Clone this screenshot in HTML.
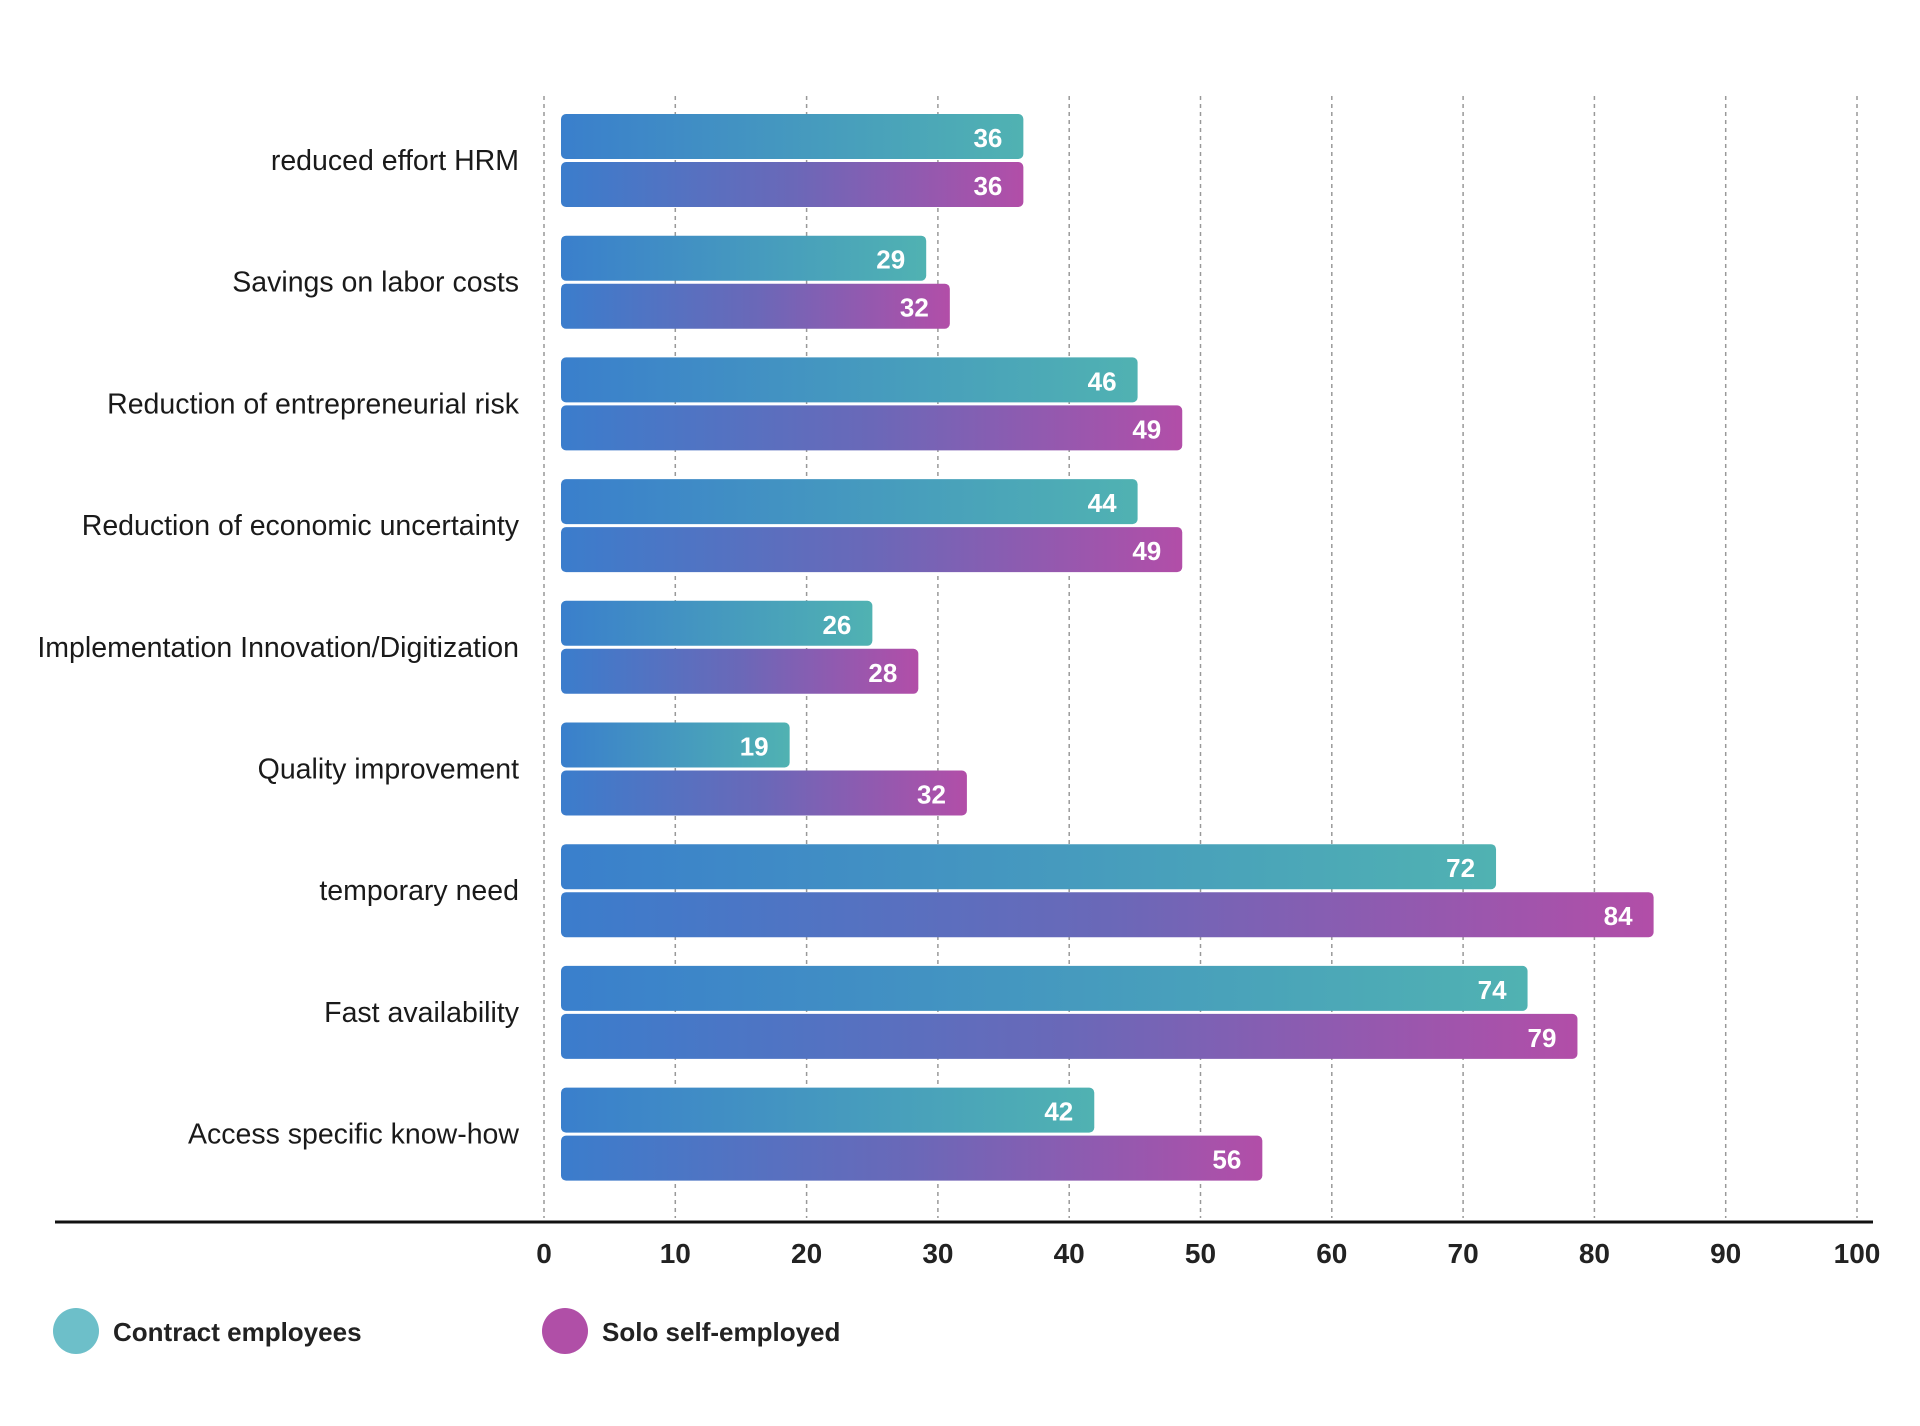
<!DOCTYPE html>
<html><head><meta charset="utf-8"><style>
body{margin:0;background:#fff;}
svg{display:block;font-family:"Liberation Sans",sans-serif;}
</style></head><body>
<svg id="chart" width="1920" height="1426" viewBox="0 0 1920 1426" xmlns="http://www.w3.org/2000/svg">
<defs>
<linearGradient id="gT" x1="0" x2="1" y1="0" y2="0"><stop offset="0" stop-color="#3a7fcc"/><stop offset="1" stop-color="#50b2b2"/></linearGradient>
<linearGradient id="gM" x1="0" x2="1" y1="0" y2="0"><stop offset="0" stop-color="#3b7dcc"/><stop offset="0.5" stop-color="#6a68b8"/><stop offset="1" stop-color="#b24ea8"/></linearGradient>
</defs>
<g id="grid"></g><g id="bars"></g><g id="labels"></g>
<line x1="55" x2="1873" y1="1222" y2="1222" stroke="#111" stroke-width="3"/>
<g>
<circle cx="76" cy="1331" r="23" fill="#6dbfc9"/>
<text x="113" y="1341" font-size="26" font-weight="bold" fill="#222">Contract employees</text>
<circle cx="565" cy="1331" r="23" fill="#b04fa7"/>
<text x="602" y="1341" font-size="26" font-weight="bold" fill="#222">Solo self-employed</text>
</g>
</svg>
<script>
const categories=["reduced effort HRM","Savings on labor costs","Reduction of entrepreneurial risk","Reduction of economic uncertainty","Implementation Innovation/Digitization","Quality improvement","temporary need","Fast availability","Access specific know-how"];
const contractValues=[35.9,28.5,44.6,44.6,24.4,18.1,71.9,74.3,41.3];
const soloValues=[35.9,30.3,48.0,48.0,27.9,31.6,83.9,78.1,54.1];
const contractLabels=[36,29,46,44,26,19,72,74,42];
const soloLabels=[36,32,49,49,28,32,84,79,56];
const tickLabels=[0,10,20,30,40,50,60,70,80,90,100];
const NS="http://www.w3.org/2000/svg";
const x=v=>544+v*13.13;
const barStart=561;
const yTop=i=>114+i*121.7;
function mk(tag,attrs,parent){const e=document.createElementNS(NS,tag);for(const k in attrs)e.setAttribute(k,attrs[k]);parent.appendChild(e);return e;}
const grid=document.getElementById('grid'),bars=document.getElementById('bars'),labels=document.getElementById('labels');
tickLabels.forEach(t=>{
  const l=mk('line',{x1:x(t),x2:x(t),y1:96,y2:1218,stroke:'#999','stroke-width':1.5,'stroke-dasharray':'4 4'},grid);
  
  
  const tx=mk('text',{x:x(t),y:1263,'font-size':28,'font-weight':'bold',fill:'#222','text-anchor':'middle'},labels);
  tx.textContent=t;
  
  
});
categories.forEach((c,i)=>{
  const y=yTop(i);
  const lab=mk('text',{x:519,y:y+56,'font-size':28.5,fill:'#1a1a1a','text-anchor':'end'},labels);
  lab.textContent=c;
  
  
  [[contractValues[i],contractLabels[i],'url(#gT)',y,'contract'],[soloValues[i],soloLabels[i],'url(#gM)',y+48,'solo']].forEach(([v,lv,f,yy,s])=>{
    const end=x(v)+8;
    const r=mk('rect',{x:barStart,y:yy,width:end-barStart,height:45,rx:5,fill:f},bars);
    
    
    const vt=mk('text',{x:end-21,y:yy+33,'font-size':26,'font-weight':'bold',fill:'#fff','text-anchor':'end'},labels);
    vt.textContent=lv;
    
    
  });
});
</script>
</body></html>
